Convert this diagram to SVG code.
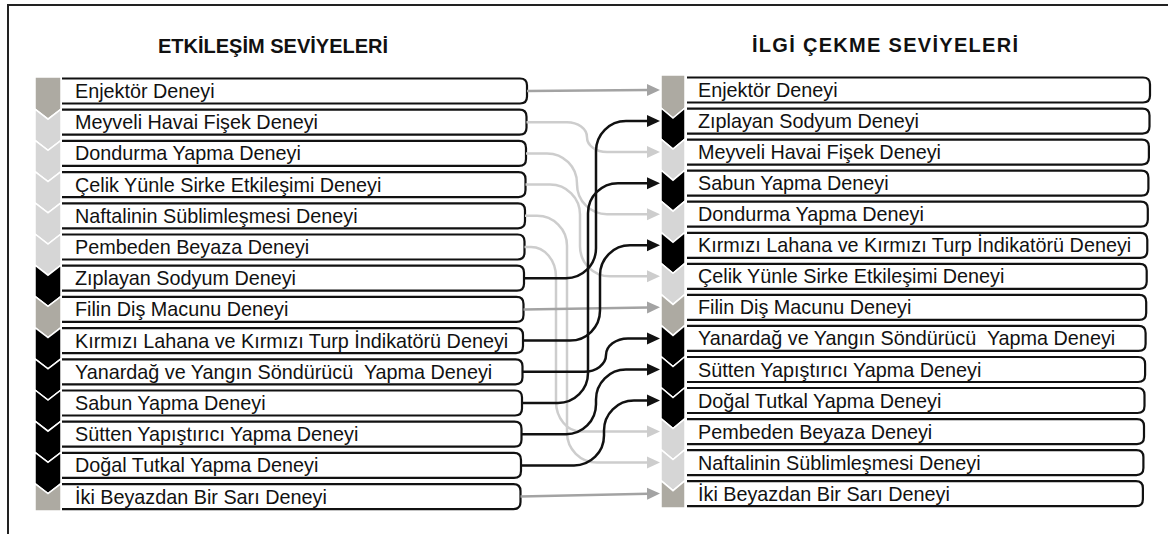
<svg xmlns="http://www.w3.org/2000/svg" width="1168" height="534" viewBox="0 0 1168 534">
<style>
.box{fill:#fff;stroke:#111;stroke-width:2.2}
.lbl{font-family:"Liberation Sans",Arial,sans-serif;font-size:19.8px;fill:#111;white-space:pre}
.hdr{font-family:"Liberation Sans",Arial,sans-serif;font-size:20px;font-weight:bold;fill:#111}
.chev{stroke:#fff;stroke-width:1.5}
.cg{fill:#adaaa2}.cl{fill:#d6d6d6}.ck{fill:#000}
.con{fill:none;stroke-width:2.5}
.lg{stroke:#a3a3a3}.ll{stroke:#cdcdcd}.lk{stroke:#111}
</style>
<defs>
<marker id="ag" markerUnits="userSpaceOnUse" markerWidth="13" markerHeight="13" viewBox="0 0 13 13" refX="1" refY="6.5" orient="auto"><path d="M0,0.5 L13,6.5 L0,12.5 z" fill="#a3a3a3"/></marker>
<marker id="al" markerUnits="userSpaceOnUse" markerWidth="13" markerHeight="13" viewBox="0 0 13 13" refX="1" refY="6.5" orient="auto"><path d="M0,0.5 L13,6.5 L0,12.5 z" fill="#cdcdcd"/></marker>
<marker id="ak" markerUnits="userSpaceOnUse" markerWidth="13" markerHeight="13" viewBox="0 0 13 13" refX="1" refY="6.5" orient="auto"><path d="M0,0.5 L13,6.5 L0,12.5 z" fill="#111"/></marker>
</defs>
<rect x="0" y="0" width="1168" height="534" fill="#fff"/>
<path d="M8,534 V5 H1168" fill="none" stroke="#222" stroke-width="2"/>
<text class="hdr" x="158" y="53">ETKİLEŞİM SEVİYELERİ</text>
<text class="hdr" x="752" y="52" textLength="266" lengthAdjust="spacing">İLGİ ÇEKME SEVİYELERİ</text>

<g id="left-nodes">
<g id="L0"><polygon class="chev cg" points="35,77 61,77 61,109.2 48,119.2 35,109.2"/><path class="box" d="M62,78.5 H520 Q527,78.5 527,85.5 V96.5 Q527,103.5 520,103.5 H62"/><text class="lbl" x="75" y="98">Enjektör Deneyi</text></g>
<g id="L1"><polygon class="chev cl" points="35,109.2 48,119.2 61,109.2 61,140.4 48,150.4 35,140.4"/><path class="box" d="M62,109.7 H519.5 Q526.5,109.7 526.5,116.7 V127.7 Q526.5,134.7 519.5,134.7 H62"/><text class="lbl" x="75" y="129.2">Meyveli Havai Fişek Deneyi</text></g>
<g id="L2"><polygon class="chev cl" points="35,140.4 48,150.4 61,140.4 61,171.6 48,181.6 35,171.6"/><path class="box" d="M62,140.9 H519 Q526,140.9 526,147.9 V158.9 Q526,165.9 519,165.9 H62"/><text class="lbl" x="75" y="160.4">Dondurma Yapma Deneyi</text></g>
<g id="L3"><polygon class="chev cl" points="35,171.6 48,181.6 61,171.6 61,202.8 48,212.8 35,202.8"/><path class="box" d="M62,172.1 H518.5 Q525.5,172.1 525.5,179.1 V190.1 Q525.5,197.1 518.5,197.1 H62"/><text class="lbl" x="75" y="191.6">Çelik Yünle Sirke Etkileşimi Deneyi</text></g>
<g id="L4"><polygon class="chev cl" points="35,202.8 48,212.8 61,202.8 61,234 48,244 35,234"/><path class="box" d="M62,203.3 H518 Q525,203.3 525,210.3 V221.3 Q525,228.3 518,228.3 H62"/><text class="lbl" x="75" y="222.8">Naftalinin Süblimleşmesi Deneyi</text></g>
<g id="L5"><polygon class="chev cl" points="35,234 48,244 61,234 61,265.2 48,275.2 35,265.2"/><path class="box" d="M62,234.5 H517.5 Q524.5,234.5 524.5,241.5 V252.5 Q524.5,259.5 517.5,259.5 H62"/><text class="lbl" x="75" y="254">Pembeden Beyaza Deneyi</text></g>
<g id="L6"><polygon class="chev ck" points="35,265.2 48,275.2 61,265.2 61,296.4 48,306.4 35,296.4"/><path class="box" d="M62,265.7 H517 Q524,265.7 524,272.7 V283.7 Q524,290.7 517,290.7 H62"/><text class="lbl" x="75" y="285.2">Zıplayan Sodyum Deneyi</text></g>
<g id="L7"><polygon class="chev cg" points="35,296.4 48,306.4 61,296.4 61,327.6 48,337.6 35,327.6"/><path class="box" d="M62,296.9 H516.5 Q523.5,296.9 523.5,303.9 V314.9 Q523.5,321.9 516.5,321.9 H62"/><text class="lbl" x="75" y="316.4">Filin Diş Macunu Deneyi</text></g>
<g id="L8"><polygon class="chev ck" points="35,327.6 48,337.6 61,327.6 61,358.8 48,368.8 35,358.8"/><path class="box" d="M62,328.1 H516 Q523,328.1 523,335.1 V346.1 Q523,353.1 516,353.1 H62"/><text class="lbl" x="75" y="347.6">Kırmızı Lahana ve Kırmızı Turp İndikatörü Deneyi</text></g>
<g id="L9"><polygon class="chev ck" points="35,358.8 48,368.8 61,358.8 61,390 48,400 35,390"/><path class="box" d="M62,359.3 H515.5 Q522.5,359.3 522.5,366.3 V377.3 Q522.5,384.3 515.5,384.3 H62"/><text class="lbl" x="75" y="378.8">Yanardağ ve Yangın Söndürücü  Yapma Deneyi</text></g>
<g id="L10"><polygon class="chev ck" points="35,390 48,400 61,390 61,421.2 48,431.2 35,421.2"/><path class="box" d="M62,390.5 H515 Q522,390.5 522,397.5 V408.5 Q522,415.5 515,415.5 H62"/><text class="lbl" x="75" y="410">Sabun Yapma Deneyi</text></g>
<g id="L11"><polygon class="chev ck" points="35,421.2 48,431.2 61,421.2 61,452.4 48,462.4 35,452.4"/><path class="box" d="M62,421.7 H514.5 Q521.5,421.7 521.5,428.7 V439.7 Q521.5,446.7 514.5,446.7 H62"/><text class="lbl" x="75" y="441.2">Sütten Yapıştırıcı Yapma Deneyi</text></g>
<g id="L12"><polygon class="chev ck" points="35,452.4 48,462.4 61,452.4 61,483.6 48,493.6 35,483.6"/><path class="box" d="M62,452.9 H514 Q521,452.9 521,459.9 V470.9 Q521,477.9 514,477.9 H62"/><text class="lbl" x="75" y="472.4">Doğal Tutkal Yapma Deneyi</text></g>
<g id="L13"><polygon class="chev cg" points="35,483.6 48,493.6 61,483.6 61,511 35,511"/><path class="box" d="M62,484.1 H513.5 Q520.5,484.1 520.5,491.1 V502.1 Q520.5,509.1 513.5,509.1 H62"/><text class="lbl" x="75" y="503.6">İki Beyazdan Bir Sarı Deneyi</text></g>
</g>

<g id="right-nodes">
<g id="R0"><polygon class="chev cg" points="661,75 685,75 685,108 673,118 661,108"/><path class="box" d="M687,77.5 H1143 Q1150,77.5 1150,84.5 V95.5 Q1150,102.5 1143,102.5 H687"/><text class="lbl" x="698" y="97">Enjektör Deneyi</text></g>
<g id="R1"><polygon class="chev ck" points="661,108 673,118 685,108 685,139.1 673,149.1 661,139.1"/><path class="box" d="M687,108.6 H1142.5 Q1149.5,108.6 1149.5,115.6 V126.6 Q1149.5,133.6 1142.5,133.6 H687"/><text class="lbl" x="698" y="128.1">Zıplayan Sodyum Deneyi</text></g>
<g id="R2"><polygon class="chev cl" points="661,139.1 673,149.1 685,139.1 685,170.2 673,180.2 661,170.2"/><path class="box" d="M687,139.6 H1141.9 Q1148.9,139.6 1148.9,146.6 V157.6 Q1148.9,164.6 1141.9,164.6 H687"/><text class="lbl" x="698" y="159.1">Meyveli Havai Fişek Deneyi</text></g>
<g id="R3"><polygon class="chev ck" points="661,170.2 673,180.2 685,170.2 685,201.2 673,211.2 661,201.2"/><path class="box" d="M687,170.7 H1141.4 Q1148.4,170.7 1148.4,177.7 V188.7 Q1148.4,195.7 1141.4,195.7 H687"/><text class="lbl" x="698" y="190.2">Sabun Yapma Deneyi</text></g>
<g id="R4"><polygon class="chev cl" points="661,201.2 673,211.2 685,201.2 685,232.3 673,242.3 661,232.3"/><path class="box" d="M687,201.7 H1140.8 Q1147.8,201.7 1147.8,208.7 V219.7 Q1147.8,226.7 1140.8,226.7 H687"/><text class="lbl" x="698" y="221.2">Dondurma Yapma Deneyi</text></g>
<g id="R5"><polygon class="chev ck" points="661,232.3 673,242.3 685,232.3 685,263.3 673,273.3 661,263.3"/><path class="box" d="M687,232.8 H1140.3 Q1147.3,232.8 1147.3,239.8 V250.8 Q1147.3,257.8 1140.3,257.8 H687"/><text class="lbl" x="698" y="252.3">Kırmızı Lahana ve Kırmızı Turp İndikatörü Deneyi</text></g>
<g id="R6"><polygon class="chev cl" points="661,263.3 673,273.3 685,263.3 685,294.4 673,304.4 661,294.4"/><path class="box" d="M687,263.8 H1139.7 Q1146.7,263.8 1146.7,270.8 V281.8 Q1146.7,288.8 1139.7,288.8 H687"/><text class="lbl" x="698" y="283.3">Çelik Yünle Sirke Etkileşimi Deneyi</text></g>
<g id="R7"><polygon class="chev cg" points="661,294.4 673,304.4 685,294.4 685,325.4 673,335.4 661,325.4"/><path class="box" d="M687,294.9 H1139.2 Q1146.2,294.9 1146.2,301.9 V312.9 Q1146.2,319.9 1139.2,319.9 H687"/><text class="lbl" x="698" y="314.4">Filin Diş Macunu Deneyi</text></g>
<g id="R8"><polygon class="chev ck" points="661,325.4 673,335.4 685,325.4 685,356.5 673,366.5 661,356.5"/><path class="box" d="M687,325.9 H1138.6 Q1145.6,325.9 1145.6,332.9 V343.9 Q1145.6,350.9 1138.6,350.9 H687"/><text class="lbl" x="698" y="345.4">Yanardağ ve Yangın Söndürücü  Yapma Deneyi</text></g>
<g id="R9"><polygon class="chev ck" points="661,356.5 673,366.5 685,356.5 685,387.5 673,397.5 661,387.5"/><path class="box" d="M687,357 H1138.1 Q1145.1,357 1145.1,364 V375 Q1145.1,382 1138.1,382 H687"/><text class="lbl" x="698" y="376.5">Sütten Yapıştırıcı Yapma Deneyi</text></g>
<g id="R10"><polygon class="chev ck" points="661,387.5 673,397.5 685,387.5 685,418.6 673,428.6 661,418.6"/><path class="box" d="M687,388 H1137.5 Q1144.5,388 1144.5,395 V406 Q1144.5,413 1137.5,413 H687"/><text class="lbl" x="698" y="407.5">Doğal Tutkal Yapma Deneyi</text></g>
<g id="R11"><polygon class="chev cl" points="661,418.6 673,428.6 685,418.6 685,449.6 673,459.6 661,449.6"/><path class="box" d="M687,419.1 H1137 Q1144,419.1 1144,426.1 V437.1 Q1144,444.1 1137,444.1 H687"/><text class="lbl" x="698" y="438.6">Pembeden Beyaza Deneyi</text></g>
<g id="R12"><polygon class="chev cl" points="661,449.6 673,459.6 685,449.6 685,480.7 673,490.7 661,480.7"/><path class="box" d="M687,450.1 H1136.4 Q1143.4,450.1 1143.4,457.1 V468.1 Q1143.4,475.1 1136.4,475.1 H687"/><text class="lbl" x="698" y="469.6">Naftalinin Süblimleşmesi Deneyi</text></g>
<g id="R13"><polygon class="chev cg" points="661,480.7 673,490.7 685,480.7 685,508 661,508"/><path class="box" d="M687,481.2 H1135.9 Q1142.9,481.2 1142.9,488.2 V499.2 Q1142.9,506.2 1135.9,506.2 H687"/><text class="lbl" x="698" y="500.7">İki Beyazdan Bir Sarı Deneyi</text></g>
</g>

<g id="connectors">
<path class="con ll" marker-end="url(#al)" d="M526.5,122.2 H567 C578,122.2 587,128.9 587,137.2 C587,145.4 596,152.1 607,152.1 H648"/>
<path class="con ll" marker-end="url(#al)" d="M526,153.4 H547 C563.6,153.4 577,166.8 577,183.4 V184.2 C577,200.8 590.4,214.2 607,214.2 H648"/>
<path class="con ll" marker-end="url(#al)" d="M525.5,184.6 H550 C566.6,184.6 580,198 580,214.6 V246.3 C580,262.9 593.4,276.3 610,276.3 H648"/>
<path class="con ll" marker-end="url(#al)" d="M525,215.8 H537 C553.6,215.8 567,229.2 567,245.8 V432.6 C567,449.2 580.4,462.6 597,462.6 H648"/>
<path class="con ll" marker-end="url(#al)" d="M524.5,247 H531 C544.8,247 556,260.4 556,277 V401.6 C556,418.1 567.2,431.6 581,431.6 H648"/>
<path class="con lg" marker-end="url(#ag)" d="M527,91 L648,90"/>
<path class="con lg" marker-end="url(#ag)" d="M523.5,309.4 L648,307.4"/>
<path class="con lg" marker-end="url(#ag)" d="M520.5,496.6 L648,493.7"/>
<path class="con lk" marker-end="url(#ak)" d="M524,278.2 H566 C582.6,278.2 596,264.8 596,248.2 V151.1 C596,134.5 609.4,121.1 626,121.1 H648"/>
<path class="con lk" marker-end="url(#ak)" d="M523,340.6 H570 C586.6,340.6 600,327.2 600,310.6 V275.3 C600,258.7 613.4,245.3 630,245.3 H648"/>
<path class="con lk" marker-end="url(#ak)" d="M522.5,371.8 H584 C596.1,371.8 606,364.3 606,355.1 C606,345.9 615.9,338.4 628,338.4 H648"/>
<path class="con lk" marker-end="url(#ak)" d="M522,403 H558 C574.6,403 588,389.6 588,373 V213.2 C588,196.6 601.4,183.2 618,183.2 H648"/>
<path class="con lk" marker-end="url(#ak)" d="M521.5,434.2 H566 C582.6,434.2 596,420.8 596,404.2 V399.5 C596,382.9 609.4,369.5 626,369.5 H648"/>
<path class="con lk" marker-end="url(#ak)" d="M521,465.4 H574 C590.6,465.4 604,452 604,435.4 V430.5 C604,413.9 617.4,400.5 634,400.5 H648"/>
</g>
</svg>
